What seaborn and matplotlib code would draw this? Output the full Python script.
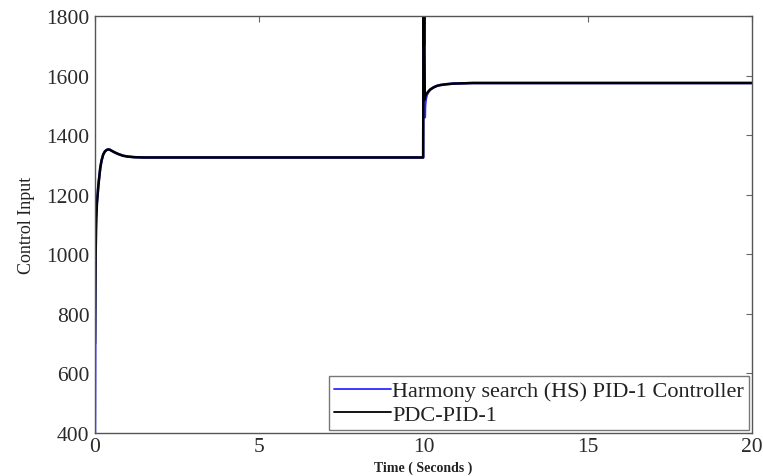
import numpy as np
import pandas as pd
import seaborn as sns
import matplotlib
matplotlib.use("Agg")
import matplotlib.pyplot as plt

# Harmony search (HS) PID-1 Controller
hs_t = [0.0, 0.005, 0.01, 0.02, 0.04, 0.06, 0.08, 0.1, 0.13, 0.16, 0.2, 0.25, 0.3, 0.35, 0.4, 0.45,
        0.5, 0.6, 0.7, 0.85, 1.0, 1.2, 1.5, 2.0, 5.0, 9.99,
        10.0, 10.01, 10.02, 10.03, 10.04, 10.05, 10.07, 10.1, 10.15, 10.2, 10.3, 10.4, 10.5,
        10.7, 10.9, 11.2, 11.5, 12.0, 15.0, 20.0]
hs_v = [400, 600, 900, 1080, 1150, 1180, 1200, 1230, 1260, 1290, 1315, 1335, 1345, 1350, 1352, 1351,
        1348, 1342, 1337, 1331, 1328, 1326, 1325, 1325, 1325, 1325,
        1900, 1700, 1800, 1600, 1460, 1500, 1520, 1535, 1545, 1552, 1560, 1565, 1568,
        1571, 1573, 1574, 1575, 1575, 1575, 1575]

# PDC-PID-1
pdc_t = [0.0, 0.01, 0.02, 0.04, 0.06, 0.08, 0.1, 0.13, 0.16, 0.2, 0.25, 0.3, 0.35, 0.4, 0.45,
         0.5, 0.6, 0.7, 0.85, 1.0, 1.2, 1.5, 2.0, 5.0, 9.99,
         10.0, 10.01, 10.02, 10.03, 10.04, 10.05, 10.07, 10.1, 10.15, 10.2, 10.3, 10.4, 10.5,
         10.7, 10.9, 11.2, 11.5, 12.0, 15.0, 20.0]
pdc_v = [700, 860, 1000, 1120, 1170, 1200, 1228, 1260, 1290, 1315, 1335, 1345, 1350, 1352, 1351,
         1348, 1342, 1337, 1331, 1328, 1326, 1325, 1325, 1325, 1325,
         1900, 1700, 1800, 1650, 1520, 1530, 1535, 1540, 1547, 1553, 1560, 1565, 1568,
         1571, 1573, 1574, 1575, 1575, 1575, 1575]

labels = ["Harmony search (HS) PID-1 Controller", "PDC-PID-1"]
x_ticks = [0, 5, 10, 15, 20]
y_ticks = [400, 600, 800, 1000, 1200, 1400, 1600, 1800]

df = pd.concat([
    pd.DataFrame({"t": hs_t, "v": hs_v, "series": labels[0]}),
    pd.DataFrame({"t": pdc_t, "v": pdc_v, "series": labels[1]}),
], ignore_index=True)

sns.set_style("white")
plt.rcParams["font.family"] = ["Liberation Serif", "DejaVu Serif"]

fig = plt.figure(figsize=(7.63, 4.77), dpi=100)
ax = fig.add_axes([95 / 763, 43 / 477, 657 / 763, 417 / 477])

sns.lineplot(data=df, x="t", y="v", hue="series", hue_order=labels,
             palette=["#2b2bff", "#000000"], linewidth=1.8, ax=ax,
             estimator=None, sort=False)

ax.set_xlim(0, 20)
ax.set_ylim(400, 1800)
ax.set_xticks(x_ticks)
ax.set_yticks(y_ticks)
ax.tick_params(direction="in", top=True, right=True, labelsize=15.5, length=4,
               color="#666666", labelcolor="#2a2a2a", pad=4)
ax.tick_params(axis="x", pad=3)
for s in ax.spines.values():
    s.set_color("#555555")
    s.set_linewidth(1.0)

ax.set_xlabel("Time ( Seconds )", fontsize=10, fontweight="bold", labelpad=3,
              color="#222222")
ax.set_ylabel("Control Input", fontsize=13, labelpad=8, color="#222222")

leg = ax.legend(loc="lower right", fontsize=16, frameon=True, fancybox=False,
                handlelength=2.6, handletextpad=0.05, borderpad=0.2,
                labelspacing=0.15, borderaxespad=0.15)
leg.get_frame().set_edgecolor("#555555")
leg.get_frame().set_linewidth(1.0)
for line in leg.get_lines():
    line.set_linewidth(1.3)
for t in leg.get_texts():
    t.set_color("#222222")
leg.set_title(None)

fig.savefig("out.png", dpi=100)
